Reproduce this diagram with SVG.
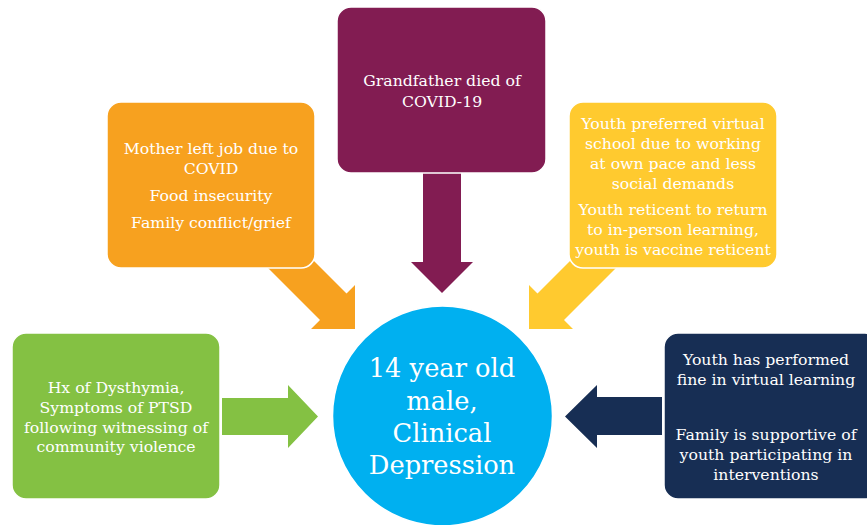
<svg xmlns="http://www.w3.org/2000/svg" width="867" height="525" viewBox="0 0 867 525">
<style>
.box{stroke:#ffffff;stroke-width:1.5}
.t{font-family:"DejaVu Serif","Liberation Serif",serif;font-size:15.7px;fill:#ffffff;text-anchor:middle}
.c{font-family:"DejaVu Serif","Liberation Serif",serif;font-size:25.7px;fill:#ffffff;text-anchor:middle}
</style>
<rect width="867" height="525" fill="#ffffff"/>
<g id="connectors">
<polygon fill="#821C52" points="423,170 461,170 461,262 473,262 442,293 411,262 423,262"/>
<polygon fill="#F7A11F" points="260,260 286.5,233.5 346.5,293.5 355,285 355,329 311,329 320,320"/>
<polygon fill="#FFCA2F" points="624,260 597.5,233.5 537.5,293.5 529,285 529,329 573,329 564,320"/>
<polygon fill="#84C143" points="222,398 288,398 288,385 318,416.5 288,448 288,435 222,435"/>
<polygon fill="#172E54" points="662,397 597,397 597,385 565,416.5 597,448 597,435 662,435"/>
</g>
<g id="maroon">
<rect class="box" x="337" y="7" width="209" height="166" rx="14" fill="#821C52"/>
<text class="t" x="442" y="86">Grandfather died of</text>
<text class="t" x="442" y="107">COVID-19</text>
</g>
<g id="orange">
<rect class="box" x="107" y="102" width="208" height="166" rx="14" fill="#F7A11F"/>
<text class="t" x="211" y="154">Mother left job due to</text>
<text class="t" x="211" y="174">COVID</text>
<text class="t" x="211" y="201">Food insecurity</text>
<text class="t" x="211" y="228">Family conflict/grief</text>
</g>
<g id="yellow">
<rect class="box" x="569" y="102" width="208" height="166" rx="14" fill="#FFCA2F"/>
<text class="t" x="673" y="129">Youth preferred virtual</text>
<text class="t" x="673" y="149">school due to working</text>
<text class="t" x="673" y="169">at own pace and less</text>
<text class="t" x="673" y="189">social demands</text>
<text class="t" x="673" y="215">Youth reticent to return</text>
<text class="t" x="673" y="235">to in-person learning,</text>
<text class="t" x="673" y="255">youth is vaccine reticent</text>
</g>
<g id="green">
<rect class="box" x="12" y="333" width="208" height="166" rx="14" fill="#84C143"/>
<text class="t" x="116" y="393">Hx of Dysthymia,</text>
<text class="t" x="116" y="413">Symptoms of PTSD</text>
<text class="t" x="116" y="433">following witnessing of</text>
<text class="t" x="116" y="452">community violence</text>
</g>
<g id="navy">
<rect class="box" x="664" y="333" width="215" height="166" rx="14" fill="#172E54"/>
<text class="t" x="766" y="365">Youth has performed</text>
<text class="t" x="766" y="385">fine in virtual learning</text>
<text class="t" x="766" y="440">Family is supportive of</text>
<text class="t" x="766" y="460">youth participating in</text>
<text class="t" x="766" y="480">interventions</text>
</g>
<g id="center">
<circle cx="442.5" cy="416" r="110" fill="#00B0F0" stroke="#ffffff" stroke-width="1.5"/>
<text class="c" x="442" y="377">14 year old</text>
<text class="c" x="442" y="410">male,</text>
<text class="c" x="442" y="442">Clinical</text>
<text class="c" x="442" y="474">Depression</text>
</g>
</svg>
